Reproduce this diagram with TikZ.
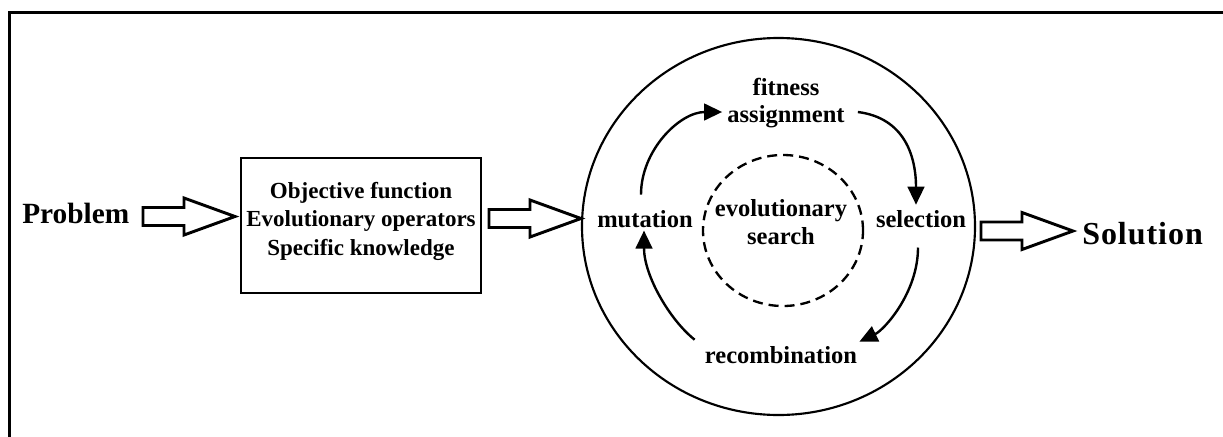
\documentclass[tikz,border=0pt]{standalone}
\usepackage{fontspec}
\setmainfont{Liberation Serif}
\usetikzlibrary{arrows.meta,shapes.geometric,calc}
\begin{document}
\begin{tikzpicture}[x=0.75pt,y=-0.75pt,
  frame/.style={line width=2.5pt},
  big/.style={font=\bfseries\fontsize{22pt}{26pt}\selectfont, inner sep=0pt},
  kbox/.style={draw, line width=2pt, rectangle, inner sep=0pt,
    minimum width=180pt, minimum height=101.25pt, align=center,
    font=\bfseries\fontsize{17.25pt}{21.3pt}\selectfont},
  lbl/.style={inner sep=0pt, align=center,
    font=\bfseries\fontsize{18.4pt}{20.25pt}\selectfont},
  cyclecurve/.style={line width=1.8pt, -{Triangle[length=13.5pt,width=12.5pt]}},
  blockline/.style={line width=2.2pt, line join=miter, fill=white},
  pics/blockarrow/.style={code={
    \draw[blockline] (0,-9) -- (41,-9) -- (41,-18.5) -- (92,0)
      -- (41,18.5) -- (41,9) -- (0,9) -- cycle;}}
]
\useasboundingbox (0,0) rectangle (1223,436);

% outer frame (top and left edges)
\draw[frame] (9.75,440) -- (9.75,12.25) -- (1230,12.25);

% input, knowledge box, output
\node[big, anchor=base west] (prob) at (22,223) {Problem};
\node[kbox] (know) at (361,225.5)
  {Objective function\\Evolutionary operators\\Specific knowledge\rule[-10.5pt]{0pt}{0pt}};
\node[big, font=\bfseries\fontsize{24pt}{28pt}\selectfont, anchor=base west] (sol) at (1082,244)
  {\addfontfeature{LetterSpace=3}Solution};

% hollow block arrows
\pic at (143,216.5) {blockarrow};
\pic at (489,218.5) {blockarrow};
\pic at (981,231) {blockarrow};

% evolutionary cycle
\node[draw, ellipse, line width=1.6pt, minimum width=294.75pt,
  minimum height=282.75pt, inner sep=0pt] (cyc) at (778.5,226.5) {};
\node[draw, ellipse, dash pattern=on 7.5pt off 4.5pt, line width=1.75pt,
  minimum width=120pt, minimum height=113.25pt, inner sep=0pt] (core) at (783,230.5) {};
\node[lbl, font=\bfseries\fontsize{18.4pt}{21pt}\selectfont] (coretxt) at (781,222.5)
  {evolutionary\\search};

\node[lbl] (fit) at (786,103) {fitness\\assignment};
\node[lbl, anchor=base] (sel) at (921,227) {selection};
\node[lbl, anchor=base] (rec) at (781,363) {recombination};
\node[lbl, anchor=base] (mut) at (645,227) {mutation};

\draw[cyclecurve] ($(mut.north)+(-4,-15)$) .. controls +(0,-45) and +(-42,0) .. ($(fit.west)+(-5,9)$);
\draw[cyclecurve] ($(fit.east)+(13,9)$) .. controls +(47,6) and +(0,-48) .. ($(sel.north)+(-5,-5)$);
\draw[cyclecurve] ($(sel.south)+(-3,20)$) .. controls +(0,45) and +(25,-12) .. ($(rec.north east)+(2,-4)$);
\draw[cyclecurve] ($(rec.north west)+(-10,-6)$) .. controls +(-25,-20) and +(0,45) .. ($(mut.south)+(-1,3)$);
\end{tikzpicture}
\end{document}
